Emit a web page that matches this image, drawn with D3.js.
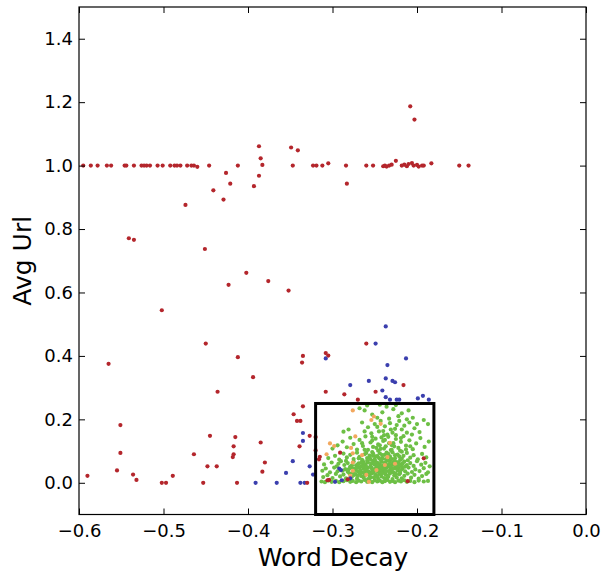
<!DOCTYPE html>
<html><head><meta charset="utf-8">
<script src="https://cdn.jsdelivr.net/npm/d3@7"></script>
<style>
html,body{margin:0;padding:0;background:#fff;}
svg{display:block;font-family:"DejaVu Sans",sans-serif;}
</style></head>
<body>
<svg id="chart" width="603" height="578"></svg>
<script>
const xTicks = [-0.6,-0.5,-0.4,-0.3,-0.2,-0.1,0.0];
const yTicks = [0.0,0.2,0.4,0.6,0.8,1.0,1.2,1.4];
const xLabel = "Word Decay";
const yLabel = "Avg Url";
const boxX = [-0.32,-0.18];
const boxY = [-0.1,0.25];

const redPoints = [
[-0.595,1.0],[-0.586,1.0],[-0.578,1.0],[-0.567,1.0],[-0.562,1.0],[-0.546,1.0],[-0.544,1.0],[-0.535,1.0],[-0.526,1.0],[-0.523,1.0],[-0.520,1.0],[-0.516,1.0],[-0.507,1.0],[-0.501,1.0],[-0.492,1.0],[-0.487,1.0],[-0.484,1.0],[-0.480,1.0],[-0.472,1.0],[-0.467,1.0],[-0.464,1.0],[-0.460,0.996],[-0.446,1.0],[-0.412,1.0],
[-0.383,1.002],[-0.347,1.0],[-0.323,1.0],[-0.319,1.0],[-0.312,1.0],[-0.305,1.007],[-0.284,1.0],[-0.260,1.0],[-0.252,1.0],
[-0.240,0.998],[-0.238,1.0],[-0.236,0.997],[-0.233,1.0],[-0.230,1.003],[-0.225,1.015],
[-0.218,1.0],[-0.215,1.003],[-0.212,0.998],[-0.210,1.005],[-0.206,1.008],[-0.204,1.0],[-0.200,1.002],[-0.198,0.997],[-0.194,1.0],[-0.192,1.0],[-0.183,1.007],[-0.150,1.0],[-0.139,1.0],
[-0.387,1.061],[-0.385,1.023],[-0.387,0.968],[-0.393,0.935],[-0.349,1.057],[-0.341,1.048],[-0.283,0.943],[-0.208,1.187],[-0.203,1.145],
[-0.426,0.977],[-0.421,0.943],[-0.441,0.922],[-0.429,0.893],[-0.474,0.876],[-0.541,0.771],[-0.535,0.766],[-0.451,0.737],
[-0.402,0.662],[-0.423,0.624],[-0.376,0.636],[-0.352,0.606],[-0.502,0.544],[-0.450,0.439],[-0.412,0.396],[-0.335,0.400],[-0.336,0.379],[-0.565,0.375],[-0.394,0.333],[-0.436,0.287],
[-0.551,0.182],[-0.551,0.094],[-0.590,0.022],[-0.555,0.039],[-0.536,0.026],[-0.532,0.009],[-0.502,0.0],[-0.497,0.0],[-0.489,0.022],[-0.464,0.090],[-0.453,0.0],[-0.448,0.052],[-0.437,0.052],[-0.445,0.148],[-0.415,0.144],[-0.417,0.115],[-0.417,0.090],[-0.418,0.081],[-0.413,0.0],[-0.385,0.127],[-0.380,0.064],[-0.383,0.035],
[-0.308,0.409],[-0.305,0.401],[-0.308,0.287],[-0.286,0.279],[-0.335,0.241],[-0.346,0.216],[-0.342,0.195],[-0.338,0.195],[-0.327,0.148],[-0.339,0.115],[-0.330,0.0],[-0.320,0.144],
[-0.260,0.439],[-0.216,0.308],[-0.249,0.287],[-0.270,0.262],[-0.320,0.102],[-0.192,0.077],[-0.211,0.005],
[-0.291,0.095],[-0.304,0.009],[-0.282,0.011],[-0.315,0.082],[-0.316,0.074],[-0.306,0.008]
];

const bluePoints = [
[-0.391,0.0],[-0.366,0.0],[-0.338,0.0],[-0.333,0.0],[-0.308,0.392],[-0.279,0.308],[-0.335,0.157],[-0.335,0.132],[-0.347,0.068],[-0.327,0.052],[-0.355,0.031],[-0.323,0.026],
[-0.237,0.493],[-0.249,0.439],[-0.213,0.392],[-0.235,0.371],[-0.257,0.321],[-0.237,0.329],[-0.229,0.321],[-0.226,0.317],[-0.241,0.291],[-0.237,0.270],[-0.232,0.262],[-0.224,0.262],[-0.221,0.262],[-0.199,0.266],[-0.193,0.274],[-0.186,0.262],
[-0.292,0.045],[-0.289,0.008],[-0.279,0.014],[-0.290,0.040],[-0.297,0.003]
];

const orangePoints = [
[-0.276,0.228],[-0.254,0.198],[-0.251,0.209],[-0.243,0.186],[-0.273,0.146],[-0.303,0.124],[-0.298,0.116],[-0.307,0.090],[-0.278,0.110],[-0.265,0.087],[-0.276,0.064],[-0.235,0.081],[-0.238,0.056],[-0.257,0.003],[-0.279,0.022],[-0.276,0.093],[-0.232,0.126],[-0.276,0.038],[-0.260,0.025],[-0.248,0.040],[-0.226,0.060]
];

const greenPoints = [
[-0.313,.004],[-0.309,.002],[-0.305,.007],[-0.301,.003],[-0.296,.006],[-0.292,.002],[-0.287,.005],[-0.283,.008],[-0.279,.003],[-0.276,.006],[-0.272,.002],[-0.269,.007],[-0.266,.004],[-0.262,.009],[-0.259,.003],[-0.256,.006],[-0.253,.002],[-0.250,.008],[-0.247,.004],[-0.244,.007],[-0.241,.002],[-0.238,.005],[-0.235,.009],[-0.232,.003],[-0.229,.006],[-0.226,.002],[-0.222,.007],[-0.219,.004],[-0.215,.008],[-0.212,.003],[-0.208,.006],[-0.203,.002],[-0.198,.007],[-0.192,.004],[-0.187,.006],
[-0.311,.018],[-0.306,.024],[-0.300,.015],[-0.296,.028],[-0.291,.020],[-0.287,.026],[-0.284,.014],[-0.280,.030],[-0.277,.019],[-0.274,.025],[-0.271,.013],[-0.268,.029],[-0.266,.021],[-0.263,.016],[-0.261,.027],[-0.258,.012],[-0.256,.022],[-0.253,.030],[-0.251,.017],[-0.249,.025],[-0.246,.013],[-0.244,.028],[-0.242,.020],[-0.239,.015],[-0.237,.026],[-0.234,.019],[-0.232,.029],[-0.229,.012],[-0.227,.023],[-0.224,.017],[-0.221,.027],[-0.218,.014],[-0.215,.022],[-0.211,.029],[-0.207,.016],[-0.203,.025],[-0.198,.013],[-0.194,.021],[-0.189,.028],[-0.270,.022],[-0.255,.017],[-0.247,.021],[-0.236,.013],[-0.226,.030],[-0.262,.024],
[-0.312,.038],[-0.308,.045],[-0.303,.033],[-0.298,.048],[-0.294,.036],[-0.285,.043],[-0.282,.035],[-0.279,.047],[-0.276,.032],[-0.273,.041],[-0.270,.036],[-0.268,.049],[-0.265,.033],[-0.263,.044],[-0.260,.038],[-0.258,.047],[-0.255,.031],[-0.253,.042],[-0.251,.036],[-0.248,.049],[-0.246,.034],[-0.244,.045],[-0.241,.039],[-0.239,.031],[-0.236,.048],[-0.234,.037],[-0.231,.043],[-0.228,.033],[-0.226,.046],[-0.223,.039],[-0.220,.031],[-0.217,.044],[-0.214,.036],[-0.210,.048],[-0.206,.034],[-0.202,.042],[-0.197,.037],[-0.192,.046],[-0.187,.033],[-0.267,.040],[-0.257,.035],[-0.250,.043],[-0.243,.033],[-0.238,.041],[-0.230,.037],[-0.222,.047],[-0.275,.045],[-0.262,.031],[-0.248,.038],
[-0.310,.058],[-0.301,.064],[-0.295,.052],[-0.290,.068],[-0.286,.056],[-0.282,.062],[-0.279,.051],[-0.275,.067],[-0.272,.055],[-0.269,.061],[-0.266,.052],[-0.264,.068],[-0.261,.058],[-0.258,.064],[-0.255,.053],[-0.252,.069],[-0.250,.057],[-0.247,.063],[-0.245,.052],[-0.242,.067],[-0.240,.056],[-0.237,.062],[-0.234,.051],[-0.232,.066],[-0.229,.058],[-0.226,.054],[-0.224,.065],[-0.221,.059],[-0.218,.051],[-0.215,.067],[-0.212,.056],[-0.208,.062],[-0.204,.053],[-0.200,.068],[-0.195,.057],[-0.190,.063],[-0.185,.052],[-0.263,.060],[-0.254,.061],[-0.244,.059],[-0.236,.055],[-0.228,.063],[-0.270,.058],[-0.249,.066],
[-0.305,.078],[-0.297,.085],[-0.292,.073],[-0.287,.092],[-0.283,.080],[-0.279,.088],[-0.275,.075],[-0.271,.095],[-0.268,.082],[-0.265,.072],[-0.262,.090],[-0.259,.078],[-0.256,.086],[-0.253,.097],[-0.250,.074],[-0.247,.084],[-0.244,.093],[-0.241,.076],[-0.238,.088],[-0.235,.071],[-0.232,.083],[-0.229,.096],[-0.226,.077],[-0.223,.089],[-0.220,.072],[-0.216,.085],[-0.212,.094],[-0.208,.079],[-0.204,.087],[-0.199,.074],[-0.194,.091],[-0.189,.080],[-0.252,.085],[-0.245,.078],[-0.260,.094],[-0.236,.095],[-0.230,.075],[-0.218,.098],[-0.269,.077],
[-0.300,.108],[-0.294,.118],[-0.288,.130],[-0.283,.112],[-0.279,.142],[-0.275,.122],[-0.271,.105],[-0.268,.135],[-0.264,.116],[-0.261,.146],[-0.258,.104],[-0.255,.127],[-0.252,.113],[-0.249,.139],[-0.246,.121],[-0.243,.107],[-0.240,.132],[-0.237,.115],[-0.234,.145],[-0.231,.103],[-0.228,.125],[-0.225,.138],[-0.222,.110],[-0.219,.129],[-0.216,.147],[-0.213,.117],[-0.209,.134],[-0.205,.106],[-0.201,.124],[-0.196,.141],[-0.191,.113],[-0.186,.130],[-0.242,.143],[-0.253,.133],[-0.230,.119],[-0.220,.101],[-0.265,.125],
[-0.287,.161],[-0.281,.168],[-0.265,.190],[-0.258,.175],[-0.250,.185],[-0.243,.195],[-0.238,.178],[-0.232,.188],[-0.226,.170],[-0.221,.195],[-0.215,.180],[-0.209,.190],[-0.203,.172],[-0.197,.160],[-0.187,.185],[-0.192,.198],[-0.229,.158],[-0.240,.163],[-0.212,.158],[-0.254,.156],[-0.262,.162],[-0.218,.168],[-0.235,.152],[-0.200,.185],
[-0.268,.235],[-0.262,.228],[-0.241,.222],[-0.236,.240],[-0.228,.232],[-0.210,.228],[-0.222,.210],[-0.253,.215],[-0.247,.205],[-0.233,.202],[-0.218,.219],[-0.205,.205],[-0.259,.244],[-0.244,.246],[-0.225,.245],
[-0.271,.047],[-0.267,.031],[-0.264,.052],[-0.261,.041],[-0.259,.069],[-0.257,.026],[-0.254,.048],[-0.252,.034],[-0.250,.061],[-0.249,.019],[-0.247,.054],[-0.245,.041],[-0.243,.072],[-0.242,.029],[-0.240,.047],[-0.238,.064],[-0.237,.036],[-0.235,.022],[-0.233,.058],[-0.231,.076],[-0.229,.044],[-0.227,.068],[-0.225,.027],[-0.223,.052],[-0.221,.083],[-0.219,.040],[-0.217,.061],[-0.256,.079],[-0.252,.092],[-0.246,.101],[-0.241,.087],[-0.239,.108],[-0.234,.091],[-0.230,.104],[-0.227,.115],[-0.233,.125],[-0.238,.135],[-0.244,.118],[-0.248,.110],[-0.262,.104],[-0.266,.063],[-0.273,.027],[-0.277,.055],[-0.281,.042],[-0.284,.069],[-0.288,.038],[-0.293,.060],[-0.260,.050],[-0.255,.074],[-0.249,.083],[-0.243,.051],[-0.237,.075],[-0.231,.052],[-0.226,.087],[-0.222,.064],[-0.218,.076],[-0.214,.051],[-0.211,.071],[-0.213,.105],[-0.208,.115],[-0.225,.150],[-0.231,.168],[-0.219,.141],[-0.245,.162],[-0.239,.150],[-0.253,.145],[-0.247,.176],[-0.224,.182],[-0.212,.200],[-0.206,.152]
];

const W = 603, H = 578;
const svg = d3.select("#chart");
const x = d3.scaleLinear().domain([-0.6, 0.0]).range([79, 586]);
const y = d3.scaleLinear().domain([-0.1, 1.5]).range([514.5, 7]);
const fmt = d3.format(".1f");

const series = [
  {pts: greenPoints, color: "#6dbf45"},
  {pts: orangePoints, color: "#f2a85e"},
  {pts: bluePoints, color: "#3b3fae"},
  {pts: redPoints, color: "#b4262c"}
];
const plot = svg.append("g");
series.forEach(s => {
  plot.selectAll(null).data(s.pts).enter().append("circle")
    .attr("cx", d => x(d[0])).attr("cy", d => y(d[1]))
    .attr("r", 2.1).attr("fill", s.color);
});

// highlight box
svg.append("rect")
  .attr("x", x(boxX[0])).attr("y", y(boxY[1]))
  .attr("width", x(boxX[1]) - x(boxX[0]))
  .attr("height", y(boxY[0]) - y(boxY[1]))
  .attr("fill", "none").attr("stroke", "#000").attr("stroke-width", 3);

// axes
const axB = d3.axisBottom(x).tickValues(xTicks).tickFormat(fmt).tickSizeInner(-6).tickSizeOuter(0).tickPadding(10);
const axL = d3.axisLeft(y).tickValues(yTicks).tickFormat(fmt).tickSizeInner(-6).tickSizeOuter(0).tickPadding(6);
const axT = d3.axisTop(x).tickValues(xTicks).tickFormat("").tickSizeInner(-6).tickSizeOuter(0);
const axR = d3.axisRight(y).tickValues(yTicks).tickFormat("").tickSizeInner(-6).tickSizeOuter(0);

function style(g){
  g.select(".domain").remove();
  g.selectAll("line").attr("stroke","#000");
  g.selectAll("text").attr("fill","#000").style("font-family","'DejaVu Sans', sans-serif").style("font-size","18px");
}
svg.append("g").attr("transform", `translate(0,${y.range()[0]})`).call(axB).call(style);
svg.append("g").attr("transform", `translate(${x.range()[0]},0)`).call(axL).call(style);
svg.append("g").attr("transform", `translate(0,${y.range()[1]})`).call(axT).call(style);
svg.append("g").attr("transform", `translate(${x.range()[1]},0)`).call(axR).call(style);

// frame
svg.append("rect")
  .attr("x", x.range()[0]).attr("y", y.range()[1])
  .attr("width", x.range()[1] - x.range()[0])
  .attr("height", y.range()[0] - y.range()[1])
  .attr("fill","none").attr("stroke","#000").attr("stroke-width",1.2);

// labels
svg.append("text").attr("x", (x.range()[0]+x.range()[1])/2 + 0.5).attr("y", 566)
  .attr("text-anchor","middle").style("font-size","25px").attr("fill","#000").text(xLabel);
svg.append("text").attr("transform", `translate(31,${(y.range()[0]+y.range()[1])/2}) rotate(-90)`)
  .attr("text-anchor","middle").style("font-size","25px").attr("fill","#000").text(yLabel);
</script>
</body></html>
